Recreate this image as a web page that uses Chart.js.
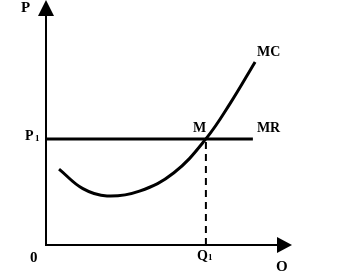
<!DOCTYPE html>
<html>
<head>
<meta charset="utf-8">
<script src="https://cdn.jsdelivr.net/npm/chart.js@4"></script>
<style>
  html, body { margin: 0; padding: 0; background: #fff; }
  #wrap { width: 343px; height: 271px; position: relative; }
</style>
</head>
<body>
<div id="wrap"><canvas id="chart"></canvas></div>
<script>
'use strict';

/* ── Data (abstract units, axes 0–10) ── */
const mcX = [0.53, 1.5, 2.48, 3.8, 5.2, 6.5, 7.5, 8.5];
const mcY = [3.1, 2.3, 2.0, 2.2, 2.95, 4.33, 5.8, 7.47];
const mrLevel = 4.33;       // P1
const mrEnd = 8.41;
const q1 = 6.5;             // output at M

const mcData = mcX.map((x, i) => ({ x, y: mcY[i] }));
const mrData = [{ x: 0, y: mrLevel }, { x: mrEnd, y: mrLevel }];
const dropData = [{ x: q1, y: 0 }, { x: q1, y: mrLevel }];

/* ── Axes with arrowheads + labels ── */
const diagramPlugin = {
  id: 'diagram',
  afterDatasetsDraw(chart) {
    const { ctx, chartArea: a, scales: { x, y } } = chart;
    ctx.save();
    ctx.strokeStyle = '#000';
    ctx.fillStyle = '#000';
    ctx.lineWidth = 2;
    // axes
    ctx.beginPath();
    ctx.moveTo(a.left, a.top + 4);
    ctx.lineTo(a.left, a.bottom);
    ctx.lineTo(a.right - 4, a.bottom);
    ctx.stroke();
    // y arrow
    ctx.beginPath();
    ctx.moveTo(a.left, a.top);
    ctx.lineTo(a.left - 8, a.top + 16);
    ctx.lineTo(a.left + 8, a.top + 16);
    ctx.closePath();
    ctx.fill();
    // x arrow
    ctx.beginPath();
    ctx.moveTo(a.right, a.bottom);
    ctx.lineTo(a.right - 15, a.bottom - 8);
    ctx.lineTo(a.right - 15, a.bottom + 8);
    ctx.closePath();
    ctx.fill();

    const big = 'bold 15px "Liberation Serif", "DejaVu Serif", serif';
    const font = 'bold 14px "Liberation Serif", "DejaVu Serif", serif';
    const sub = 'bold 9px "Liberation Serif", "DejaVu Serif", serif';
    ctx.textBaseline = 'middle';
    ctx.textAlign = 'left';
    const yP1 = y.getPixelForValue(mrLevel);
    const xQ1 = x.getPixelForValue(q1);

    ctx.font = big;
    ctx.fillText('P', 21, 8);
    ctx.fillText('0', 30, a.bottom + 13);
    ctx.fillText('O', 276, a.bottom + 22);
    ctx.font = font;
    ctx.fillText('MC', x.getPixelForValue(8.5) + 2, 52);
    ctx.fillText('MR', x.getPixelForValue(mrEnd) + 4, yP1 - 11);
    ctx.fillText('M', xQ1 - 13, yP1 - 11);

    // P1
    ctx.fillText('P', 25, yP1 - 3);
    ctx.font = sub;
    ctx.fillText('1', 35, yP1);
    // Q1
    ctx.font = font;
    ctx.fillText('Q', xQ1 - 9, a.bottom + 11);
    ctx.font = sub;
    ctx.fillText('1', xQ1 + 2, a.bottom + 13);
    ctx.restore();
  }
};

new Chart(document.getElementById('chart'), {
  type: 'scatter',
  data: {
    datasets: [
      { data: mcData, showLine: true, borderColor: '#000', borderWidth: 3,
        pointRadius: 0, tension: 0.4 },
      { data: mrData, showLine: true, borderColor: '#000', borderWidth: 3, pointRadius: 0 },
      { data: dropData, showLine: true, borderColor: '#000', borderWidth: 2,
        borderDash: [7, 5], pointRadius: 0 }
    ]
  },
  options: {
    responsive: true,
    maintainAspectRatio: false,
    animation: false,
    layout: { padding: { left: 46, top: 0, right: 51, bottom: 26 } },
    plugins: { legend: { display: false }, tooltip: { enabled: false } },
    scales: {
      x: { type: 'linear', min: 0, max: 10, display: false },
      y: { type: 'linear', min: 0, max: 10, display: false }
    }
  },
  plugins: [diagramPlugin]
});
</script>
</body>
</html>
